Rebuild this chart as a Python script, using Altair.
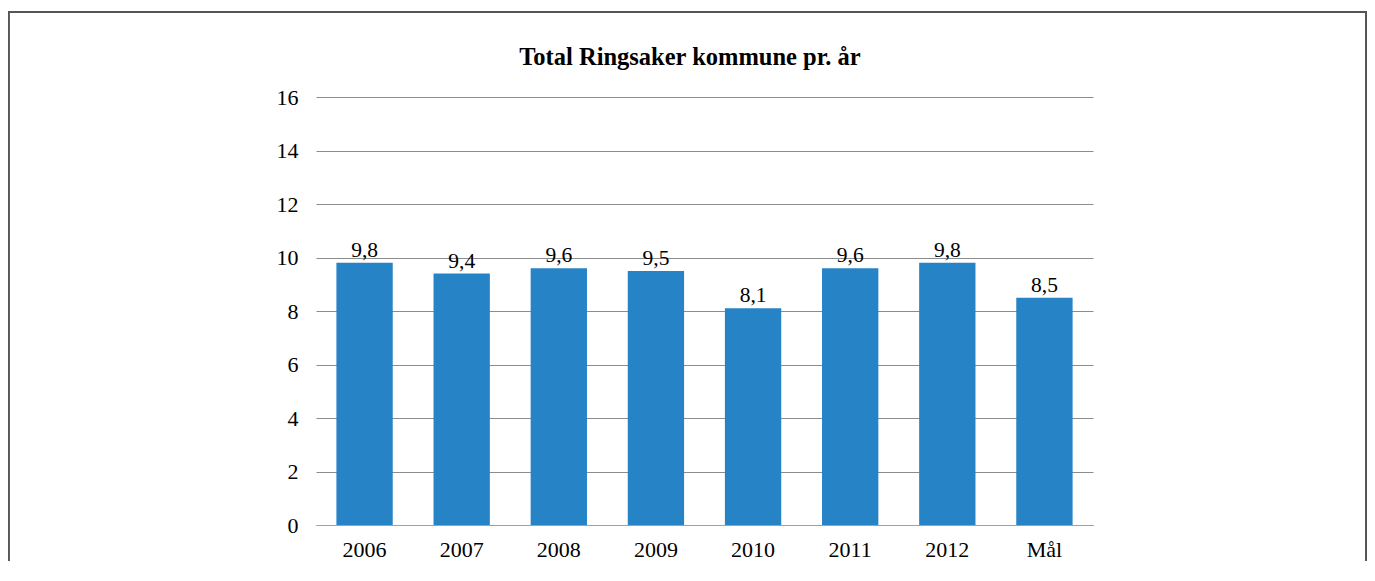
import altair as alt
import pandas as pd

categories = ["2006", "2007", "2008", "2009", "2010", "2011", "2012", "Mål"]
values = [9.8, 9.4, 9.6, 9.5, 8.1, 9.6, 9.8, 8.5]
labels = ["9,8", "9,4", "9,6", "9,5", "8,1", "9,6", "9,8", "8,5"]
y_ticks = [0, 2, 4, 6, 8, 10, 12, 14, 16]
title_text = "Total Ringsaker kommune pr. år"

df = pd.DataFrame({"cat": categories, "val": values, "lab": labels})

FONT = "Liberation Serif"

x = alt.X("cat:N", sort=categories, title=None,
          scale=alt.Scale(paddingInner=0.42, paddingOuter=0.21),
          axis=alt.Axis(labelAngle=0, labelFont=FONT, labelFontSize=22, labelColor="#000",
                        ticks=False, domain=True, domainColor="#a0a0a0", labelPadding=14))
y = alt.Y("val:Q", title=None,
          scale=alt.Scale(domain=[0, 16]),
          axis=alt.Axis(values=y_ticks, labelFont=FONT, labelFontSize=22, labelColor="#000",
                        ticks=False, domain=False, grid=True, gridColor="#8c8c8c",
                        labelPadding=18))

bars = alt.Chart(df).mark_bar(color="#2683c6").encode(x=x, y=y)
text = alt.Chart(df).mark_text(font=FONT, fontSize=21.5, color="#000", baseline="bottom", dy=-1).encode(
    x=alt.X("cat:N", sort=categories), y="val:Q", text="lab:N")

frame = alt.Chart(df).mark_rect(fill=None, stroke="#555", strokeWidth=1.5).encode(
    x=alt.value(-307.5), x2=alt.value(1050), y=alt.value(-85), y2=alt.value(520))

title = alt.Chart(pd.DataFrame({"t": [title_text]})).mark_text(
    font=FONT, fontSize=24.5, fontWeight="bold", color="#000", baseline="middle", align="center"
).encode(x=alt.value(374), y=alt.value(-39), text="t:N")

chart = alt.layer(frame, bars, text, title).properties(
    width=777, height=428,
    autosize=alt.AutoSizeParams(type="none"),
    padding={"left": 308, "top": 89, "right": 274, "bottom": 36},
).configure_view(stroke=None)

chart.save("out.html", embed_options={"renderer": "svg", "actions": False})
